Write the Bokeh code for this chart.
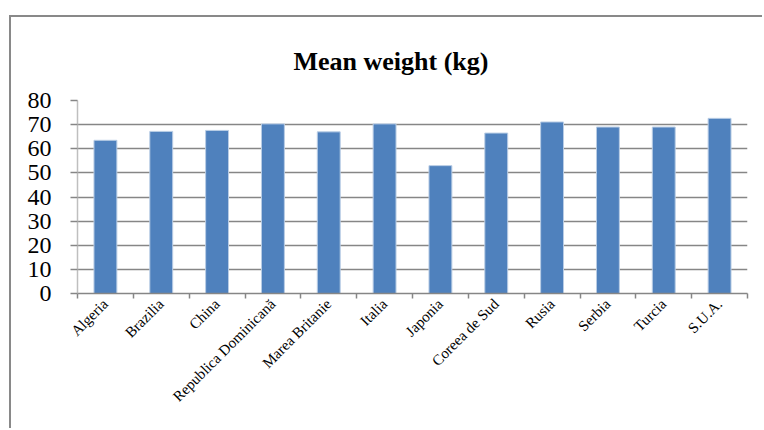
import math
from bokeh.plotting import figure
from bokeh.models import Range1d, FixedTicker, ColumnDataSource
from bokeh.embed import file_html
from bokeh.resources import INLINE

categories = ["Algeria", "Brazilia", "China", "Republica Dominicană", "Marea Britanie",
              "Italia", "Japonia", "Coreea de Sud", "Rusia", "Serbia", "Turcia", "S.U.A."]
weights = [63.5, 67.2, 67.6, 70.3, 67.0, 70.3, 53.0, 66.5, 71.1, 69.0, 69.0, 72.6]
y_ticks = [0, 10, 20, 30, 40, 50, 60, 70, 80]
title_text = "Mean weight (kg)"

n = len(categories)
idx = list(range(n))
source = ColumnDataSource(dict(x=idx, top=weights, name=categories))

SERIF = "Liberation Serif"
GRAY = "#868686"

p = figure(width=753, height=413, output_backend="svg", toolbar_location=None,
           x_range=Range1d(-0.5, n - 0.5), y_range=Range1d(y_ticks[0], y_ticks[-1]),
           min_border_left=66, min_border_right=17, min_border_top=83, min_border_bottom=137,
           title=title_text)
p.margin = (15, 0, 0, 9)
p.styles = {"border-left": "2px solid #898989", "border-top": "2px solid #898989"}
p.outline_line_color = None
p.background_fill_color = "white"
p.border_fill_color = "white"

p.title.text_font = SERIF
p.title.text_font_size = "26px"
p.title.text_font_style = "bold"
p.title.text_color = "black"
p.title.align = "left"
p.title.offset = 216
p.title.standoff = 49

p.vbar(x="x", top="top", width=0.41, source=source,
       fill_color="#4f81bd", line_color="#b9cde5", line_width=1)

# y axis
p.yaxis.ticker = FixedTicker(ticks=y_ticks)
p.yaxis.major_label_text_font = SERIF
p.yaxis.major_label_text_font_size = "24px"
p.yaxis.major_label_text_color = "black"
p.yaxis.axis_line_color = "#bfbfbf"
p.yaxis.axis_line_width = 1.5
p.yaxis.major_tick_line_color = GRAY
p.yaxis.major_tick_line_width = 1.5
p.yaxis.major_tick_in = 0
p.yaxis.major_tick_out = 7
p.yaxis.minor_tick_line_color = None
p.yaxis.major_label_standoff = 19

p.ygrid.grid_line_color = GRAY
p.ygrid.grid_line_width = 1.5
p.xgrid.grid_line_color = None

# x axis
p.xaxis.ticker = FixedTicker(ticks=idx, minor_ticks=[i - 0.5 for i in range(n + 1)])
p.xaxis.major_label_overrides = {i: c for i, c in enumerate(categories)}
p.xaxis.major_label_orientation = math.pi / 4
p.xaxis.major_label_text_font = SERIF
p.xaxis.major_label_text_font_size = "15px"
p.xaxis.major_label_text_color = "black"
p.xaxis.major_tick_line_color = None
p.xaxis.major_tick_out = 5
p.xaxis.major_tick_in = 0
p.xaxis.minor_tick_line_color = GRAY
p.xaxis.minor_tick_line_width = 1.5
p.xaxis.minor_tick_in = 0
p.xaxis.minor_tick_out = 5
p.xaxis.axis_line_color = GRAY
p.xaxis.axis_line_width = 1.5
p.xaxis.major_label_standoff = 3

open("out.html", "w").write(file_html(p, INLINE))
